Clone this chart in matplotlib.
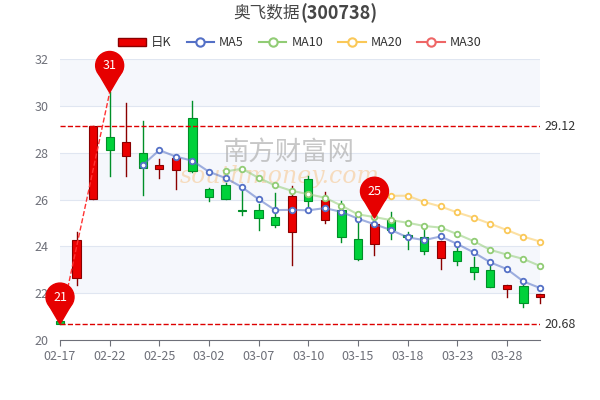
import matplotlib
matplotlib.use("Agg")
import matplotlib.pyplot as plt
import numpy as np
import pandas as pd
from matplotlib.patches import Rectangle, Polygon, Circle
from matplotlib.lines import Line2D

plt.rcParams['font.family'] = ['Noto Sans CJK SC', 'DejaVu Sans']

dates = ["02-17","02-18","02-21","02-22","02-23","02-24","02-25","02-28","03-01","03-02",
         "03-03","03-04","03-07","03-08","03-09","03-10","03-11","03-14","03-15","03-16",
         "03-17","03-18","03-21","03-22","03-23","03-24","03-25","03-28","03-29","03-30"]
opens  = [20.80,22.66,26.04,28.66,27.86,28.00,27.31,27.24,29.50,26.44,26.63,25.54,25.56,25.26,24.60,
          26.86,25.13,25.57,24.31,24.10,25.11,24.50,24.39,23.50,23.81,23.11,23.01,22.16,22.31,21.84]
closes = [20.70,24.29,29.14,28.11,28.47,27.36,27.46,27.76,27.23,26.11,26.03,25.49,25.19,24.91,26.17,
          25.93,25.96,24.39,23.46,24.97,24.71,24.39,23.80,24.24,23.37,22.89,22.27,22.37,21.60,21.97]
highs  = [20.82,24.60,29.14,30.57,30.10,29.36,27.71,27.76,30.21,26.50,26.70,26.60,25.80,26.29,26.57,
          27.00,26.33,25.93,25.29,25.20,25.46,24.60,24.71,24.24,24.00,23.54,23.21,22.37,22.36,21.97]
lows   = [20.68,22.33,26.04,27.00,27.00,26.19,26.91,26.43,27.17,25.93,26.03,25.33,24.69,24.81,23.21,
          25.71,25.00,24.17,23.40,23.61,24.31,23.90,23.69,23.04,23.21,22.61,22.27,21.83,21.43,21.57]
max_val = 29.12
min_val = 20.68

fig = plt.figure(figsize=(6, 4), dpi=100)
ax = fig.add_axes([0.1, 0.15, 0.8, 0.7025])
n = len(dates)
x = np.arange(n)
ax.set_xlim(0, n - 1)
ax.set_ylim(20, 32)

for lo, hi in [(30, 32), (26, 28), (22, 24)]:
    ax.axhspan(lo, hi, color='#f5f7fc', zorder=0, lw=0)
for yv in [22, 24, 26, 28, 30, 32]:
    ax.axhline(yv, color='#e0e6f1', lw=0.8, zorder=0.5)

ax.text(13.8, 28.0, "南方财富网", fontsize=19, color='#b0b0b0', alpha=0.7, ha='center', va='center', zorder=1)
ax.text(13.3, 27.0, "southmoney.com", fontsize=17, color='#f7c58a', alpha=0.55, style='italic',
        family='DejaVu Serif', ha='center', va='center', zorder=1)

w = 0.5
for i in x:
    o, c, h, l = opens[i], closes[i], highs[i], lows[i]
    up = c > o
    fc = '#eb0000' if up else '#00d13a'
    ec = '#8a0000' if up else '#008f28'
    ax.plot([i, i], [l, h], color=ec, lw=1, zorder=2, clip_on=False)
    ax.add_patch(Rectangle((i - w / 2, min(o, c)), w, max(abs(c - o), 0.05),
                           facecolor=fc, edgecolor=ec, lw=0.8, zorder=3, clip_on=False))

cl = pd.Series(closes)
ma_cols = {5: '#5470c6', 10: '#91cc75', 20: '#fac858', 30: '#ee6666'}
for p, col in ma_cols.items():
    m = cl.rolling(p).mean()
    m[:p] = np.nan
    ax.plot(x, m, color=col, lw=1.5, alpha=0.55, zorder=4, clip_on=False)
    ax.plot(x, m, ls='none', marker='o', ms=4, mfc='white', mec=col, mew=1.3, zorder=5, clip_on=False)

ax.axhline(max_val, color='#dd0000', ls='--', lw=1, zorder=4)
ax.axhline(min_val, color='#dd0000', ls='--', lw=1, zorder=4)
ax.text(1.01, max_val, f"{max_val:.2f}", transform=ax.get_yaxis_transform(), va='center', fontsize=9, color='#333333')
ax.text(1.01, min_val, f"{min_val:.2f}", transform=ax.get_yaxis_transform(), va='center', fontsize=9, color='#333333')
ax.plot([0, 3], [min_val, highs[3]], color='#ff3333', ls='--', lw=1, zorder=4)

def pin(i, yv, label):
    px, py = ax.transData.transform((i, yv))
    r = 14
    cx, cy = px, py + 27
    circ = Circle((cx, cy), r, transform=None, color='#e60000', zorder=8, clip_on=False)
    tri = Polygon([(cx - r * 0.75, cy - r * 0.65), (cx + r * 0.75, cy - r * 0.65), (px, py)],
                  closed=True, transform=None, color='#e60000', zorder=8, clip_on=False)
    fig.patches.append(circ); fig.patches.append(tri)
    fig.text(cx / fig.dpi / 6, cy / fig.dpi / 4, label, ha='center', va='center', color='white', fontsize=9, zorder=9)

fig.canvas.draw()
pin(0, lows[0], "21")
pin(3, highs[3], "31")
pin(19, highs[19], "25")

ticks = list(range(0, n, 3))
ax.set_xticks(ticks)
ax.set_xticklabels([dates[t] for t in ticks], fontsize=9, color='#6e7079')
ax.set_yticks([20, 22, 24, 26, 28, 30, 32])
ax.set_yticklabels(["20", "22", "24", "26", "28", "30", "32"], fontsize=9, color='#6e7079')
ax.tick_params(axis='y', length=0, pad=8)
ax.tick_params(axis='x', length=4, color='#6e7079')
for s in ['top', 'right', 'left']:
    ax.spines[s].set_visible(False)
ax.spines['bottom'].set_color('#6e7079')

fig.text(0.5, 0.967, "奥飞数据", ha='right', va='center', fontsize=12, color='#464646')
fig.text(0.5, 0.967, "(300738)", ha='left', va='center', fontsize=13, fontweight='bold', color='#464646')

handles = [Rectangle((0, 0), 1, 1, facecolor='#eb0000', edgecolor='#8a0000')]
labels = ["日K"]
for p, col in ma_cols.items():
    handles.append(Line2D([], [], color=col, lw=1.5, marker='o', ms=6, mfc='white', mec=col, mew=1.5))
    labels.append(f"MA{p}")
fig.legend(handles, labels, loc='center', bbox_to_anchor=(0.5, 0.893), ncol=5, frameon=False,
           fontsize=9, handlelength=2.2, columnspacing=1.2, handletextpad=0.4, labelcolor='#333333')

fig.savefig("out.png", dpi=100)
